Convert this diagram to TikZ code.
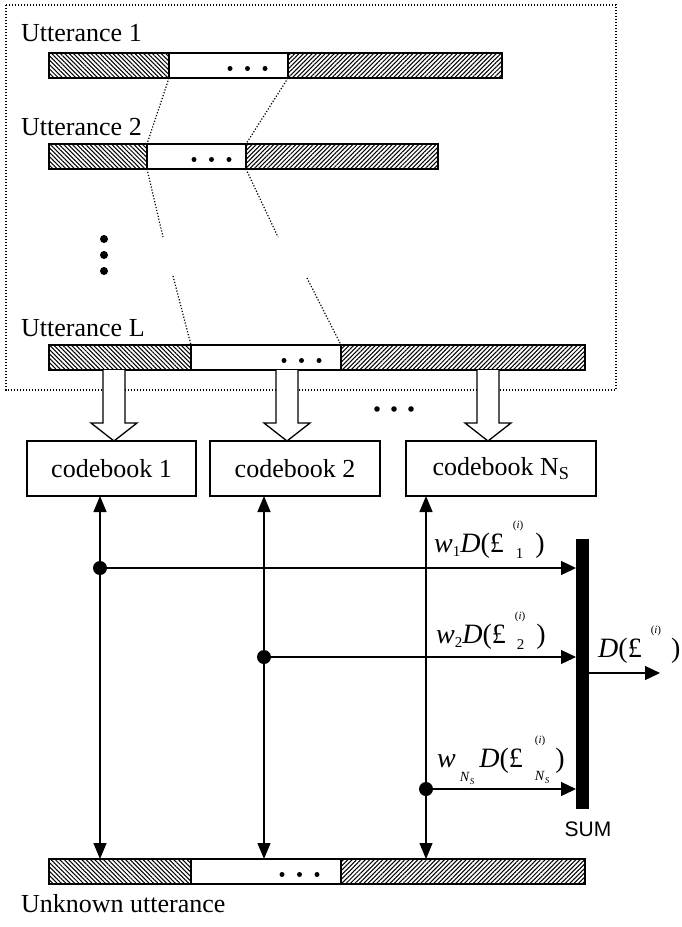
\documentclass[tikz,border=0pt]{standalone}
\usepackage{fontspec}
\setmainfont{Liberation Serif}
\newfontfamily\sumfont{Liberation Sans}
\usetikzlibrary{patterns.meta,arrows.meta}
\tikzset{
  segbox/.style={draw, line width=1.3pt, inner sep=0pt, outer sep=0pt, anchor=north west, minimum height=25pt},
  hatchL/.style={segbox, pattern={Lines[angle=-45,distance=3.1pt,line width=1.05pt]}},
  hatchR/.style={segbox, pattern={Lines[angle=45,distance=3.1pt,line width=1.05pt]}},
  plain/.style={segbox, fill=white},
  frameline/.style={line width=1.3pt, dash pattern=on 1.3pt off 1.7pt},
  dotline/.style={line width=1.2pt, dash pattern=on 1.2pt off 1.8pt},
  hollow/.style={draw, fill=white, line width=1.3pt, line join=miter},
  cbox/.style={draw, line width=1.4pt, inner sep=0pt, outer sep=0pt, minimum height=55pt, font=\fontsize{26}{26}\selectfont},
  txt/.style={anchor=base west, inner sep=0pt, font=\fontsize{26}{26}\selectfont},
  mlab/.style={anchor=base west, inner sep=0pt, font=\fontsize{28}{28}\selectfont},
  dbl/.style={line width=1.3pt, {Triangle[length=16pt,width=13pt]}-{Triangle[length=16pt,width=13pt]}},
  harrow/.style={line width=1.3pt, -{Triangle[length=15pt,width=14pt]}},
  bigdot/.style={circle, fill, inner sep=0pt, minimum size=14pt},
}
\newcommand\utbar[7]{% prefix, ytop, x0, x1, x2, x3, xdot
  \node[hatchL, minimum width=#4pt-#3pt] (#1l) at (#3,#2) {};
  \node[plain, minimum width=#5pt-#4pt] (#1m) at (#4,#2) {};
  \node[hatchR, minimum width=#6pt-#5pt] (#1r) at (#5,#2) {};
  \foreach \k in {0,1,2} \fill (#7+17.5*\k,#2+15.5) circle[radius=2.5pt];
}
\newcommand\hollowarrow[3]{%
  \draw[hollow] (#1-11,#2) -- (#1-11,#3-18) -- (#1-23,#3-18) -- (#1,#3) -- (#1+23,#3-18) -- (#1+11,#3-18) -- (#1+11,#2);}
\newcommand\ilab{\raisebox{24pt}{\fontsize{11}{11}\selectfont(\textit{i})}}
\newcommand\sub[2]{\raisebox{-#1}{\fontsize{15}{15}\selectfont #2}}
\begin{document}
\begin{tikzpicture}[x=1pt,y=-1pt]
\useasboundingbox (0,0) rectangle (681,927);
% frame
\draw[frameline] (6,5) rectangle (616,390);
% utterances
\node[txt] (u1) at (21,41) {Utterance 1};
\utbar{ba}{53}{49}{169}{288}{502}{230}
\node[txt] (u2) at (21,135) {Utterance 2};
\utbar{bb}{144}{49}{147}{246}{438}{194}
\node[txt] (uL) at (21,336) {Utterance L};
\utbar{bL}{345}{49}{191}{341}{585}{284}
\node[txt] (uu) at (21,912) {Unknown utterance};
\utbar{bu}{859}{49}{191}{341}{585}{282}
% dotted alignment lines
\draw[dotline] (bam.south west) -- (bbm.north west);
\draw[dotline] (bam.south east) -- (bbm.north east);
\coordinate (g1) at (163,237); \coordinate (g2) at (278,237);
\coordinate (h1) at (173,276); \coordinate (h2) at (307,278);
\draw[dotline] (bbm.south west) -- (g1);
\draw[dotline] (bbm.south east) -- (g2);
\draw[dotline] (h1) -- (bLm.north west);
\draw[dotline] (h2) -- (bLm.north east);
% vertical ellipsis
\foreach \yy in {239,255,271} \fill (104,\yy) circle[radius=4pt];
% codebooks
\node[cbox, minimum width=169pt, anchor=north west] (cb1) at (27,441) {codebook 1};
\node[cbox, minimum width=170pt, anchor=north west] (cb2) at (210,441) {codebook 2};
\node[cbox, minimum width=190pt, anchor=north west] (cb3) at (406,441) {codebook N\textsubscript{S}};
% hollow arrows
\hollowarrow{114}{370}{441}
\hollowarrow{287}{370}{441}
\hollowarrow{488}{370}{441}
% middle ellipsis
\foreach \xx in {377,394,411} \fill (\xx,409) circle[radius=2.8pt];
% vertical connectors
\coordinate (v1) at (100,0); \coordinate (v2) at (264,0); \coordinate (v3) at (426,0);
\draw[dbl] (cb1.south -| v1) -- (bul.north -| v1);
\draw[dbl] (cb2.south -| v2) -- (bum.north -| v2);
\draw[dbl] (cb3.south -| v3) -- (bur.north -| v3);
% sum bar
\node[fill, inner sep=0pt, outer sep=0pt, minimum width=13pt, minimum height=270pt, anchor=north west] (sum) at (576,539) {};
\node[font=\sumfont\fontsize{21}{21}\selectfont, inner sep=0pt] (sumt) at (588,829) {SUM};
% dots and arrows
\node[bigdot] (d1) at (100,568) {};
\node[bigdot] (d2) at (264,657) {};
\node[bigdot] (d3) at (426,789) {};
\draw[harrow] (d1.center) -- (d1 -| sum.west);
\draw[harrow] (d2.center) -- (d2 -| sum.west);
\draw[harrow] (d3.center) -- (d3 -| sum.west);
\coordinate (o0) at (589,673); \coordinate (o1) at (660,673);
\draw[harrow] (o0) -- (o1);
% labels
\node[mlab] (l1) at (434,552) {\textit{w}\sub{4pt}{1}\textit{D}(£\hspace{9pt}\rlap{\ilab}\hspace{3pt}\sub{6pt}{1}\hspace{12pt})};
\node[mlab] (l2) at (436,643) {\textit{w}\sub{4pt}{2}\textit{D}(£\hspace{9pt}\rlap{\ilab}\hspace{2pt}\sub{6pt}{2}\hspace{12pt})};
\node[mlab] (l3) at (437,767) {\textit{w}\hspace{4pt}\raisebox{-14pt}{\fontsize{14}{14}\selectfont\textit{N}\raisebox{-3pt}{\fontsize{9}{9}\selectfont\textit{S}}}\hspace{5pt}\textit{D}(£\hspace{12pt}\rlap{\ilab}\raisebox{-13pt}{\fontsize{14}{14}\selectfont\textit{N}\raisebox{-3pt}{\fontsize{9}{9}\selectfont\textit{S}}}\hspace{6pt})};
\node[mlab] (l4) at (598,657) {\textit{D}(£\hspace{9pt}\ilab\hspace{10pt})};
\end{tikzpicture}
\end{document}
